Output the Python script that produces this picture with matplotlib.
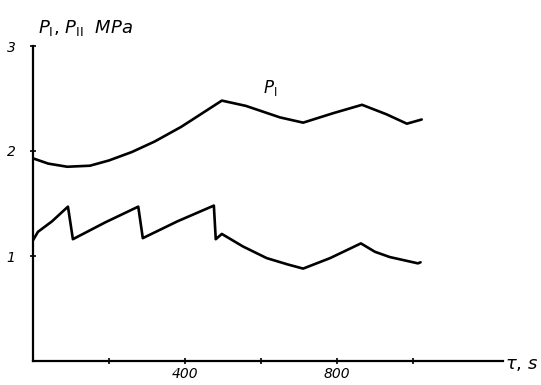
import matplotlib.pyplot as plt

# time, s
t_upper = [0, 40, 90, 150, 200, 260, 320, 390, 450, 497, 560, 650, 711, 790, 866, 930, 984, 1023]
p_upper = [1.93, 1.88, 1.85, 1.86, 1.91, 1.99, 2.09, 2.23, 2.37, 2.48, 2.43, 2.32, 2.27, 2.36, 2.44, 2.35, 2.26, 2.30]

t_lower = [0, 13, 50, 92, 105, 190, 277, 289, 380, 476, 481, 497, 553, 615, 670, 711, 782, 863, 900, 939, 1013, 1020]
p_lower = [1.15, 1.23, 1.33, 1.47, 1.16, 1.32, 1.47, 1.17, 1.33, 1.48, 1.16, 1.21, 1.09, 0.98, 0.92, 0.88, 0.98, 1.12, 1.04, 0.99, 0.93, 0.94]

x_ticks = [200, 400, 600, 800, 1000]
x_tick_labels = ['', '400', '', '800', '']
y_ticks = [1, 2, 3]
y_tick_labels = ['1', '2', '3']

fig = plt.figure(figsize=(5.41, 3.85), dpi=100)
ax = fig.add_axes([33 / 541, 24 / 385, 470 / 541, 315 / 385])

ax.plot(t_upper, p_upper, color='black', lw=1.9, solid_capstyle='round')
ax.plot(t_lower, p_lower, color='black', lw=1.9, solid_capstyle='round')

ax.set_xlim(0, 1237)
ax.set_ylim(0, 3.0)
for s in ['top', 'right']:
    ax.spines[s].set_visible(False)
for s in ['left', 'bottom']:
    ax.spines[s].set_linewidth(1.6)

font = dict(family='DejaVu Sans', style='italic', size=10)
ax.set_xticks(x_ticks)
ax.set_xticklabels(x_tick_labels, fontdict=font)
ax.set_yticks(y_ticks)
ax.set_yticklabels(y_tick_labels, fontdict=font)
ax.tick_params(axis='x', direction='inout', length=5, width=1.2, pad=2)
ax.tick_params(axis='y', direction='inout', length=5, width=1.2, pad=10)

fig.text(38 / 541, 1 - 28 / 385, r'$P_{\mathrm{I}}$, $P_{\mathrm{II}}$  $MPa$', fontsize=13, va='center')
ax.text(624, 2.55, r'$P_{\mathrm{I}}$', fontsize=12, ha='center')
fig.text(505 / 541, 1 - 364 / 385, r'$\tau$, $s$', fontsize=13, va='center')

fig.savefig('out.png', dpi=100)
